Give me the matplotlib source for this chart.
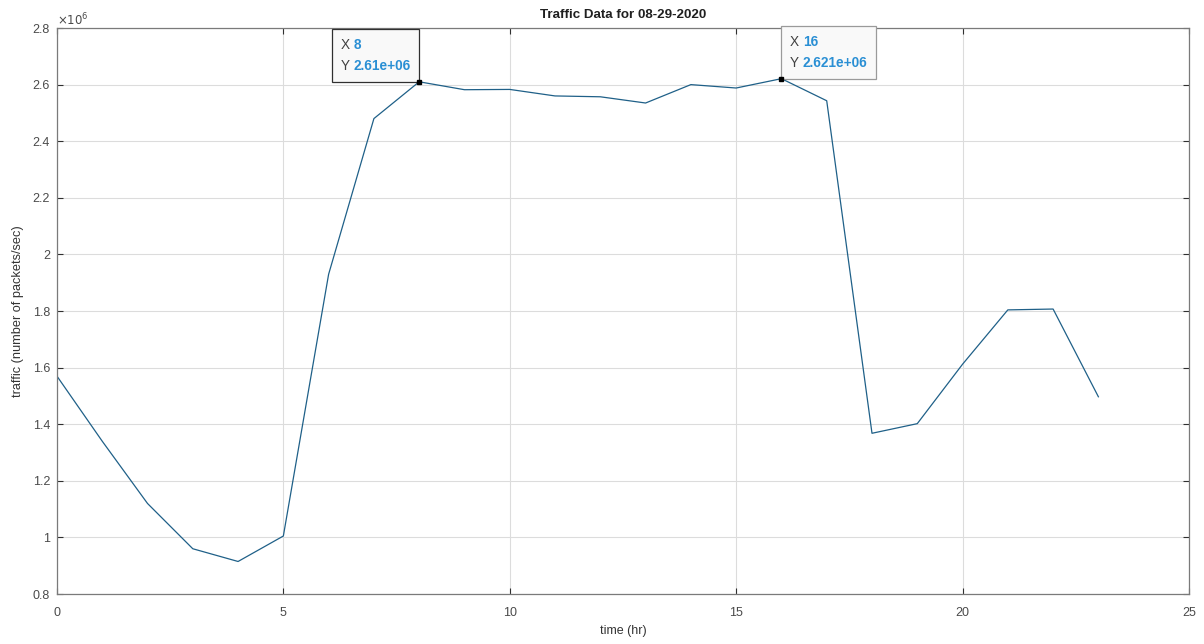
import matplotlib
matplotlib.use('Agg')
import matplotlib.pyplot as plt
from matplotlib.ticker import FuncFormatter, MultipleLocator
from matplotlib.offsetbox import TextArea, HPacker, VPacker, AnnotationBbox

plt.rcParams['font.family'] = ['Liberation Sans', 'DejaVu Sans']

# hourly traffic for one day
hours = list(range(24))
traffic = [1.57e6, 1.34e6, 1.12e6, 0.96e6, 0.915e6, 1.005e6, 1.93e6, 2.48e6,
           2.61e6, 2.582e6, 2.583e6, 2.56e6, 2.557e6, 2.535e6, 2.60e6, 2.588e6,
           2.621e6, 2.543e6, 1.368e6, 1.402e6, 1.612e6, 1.804e6, 1.807e6, 1.497e6]

# hours that get a data tip
tip_hours = [8, 16]

lineColor = '#1f6088'
tickColor = '#4a4a4a'
tipBlue = '#2a8fd4'

fig = plt.figure(figsize=(12.04, 6.44), dpi=100)
ax = fig.add_axes([0.0473, 0.0776, 0.9402, 0.8789])

ax.plot(hours, traffic, color=lineColor, linewidth=0.9)

ax.set_xlim(0, 25)
ax.set_ylim(0.8e6, 2.8e6)
ax.xaxis.set_major_locator(MultipleLocator(5))
ax.yaxis.set_major_locator(MultipleLocator(0.2e6))
ax.yaxis.set_major_formatter(FuncFormatter(lambda v, p: '%g' % round(v / 1e6, 2)))

ax.grid(True, color='#dcdcdc', linewidth=0.8)
ax.set_axisbelow(True)
for s in ax.spines.values():
    s.set_color('#7a7a7a')
    s.set_linewidth(0.9)
ax.tick_params(direction='in', top=True, right=True, length=4, width=0.8,
               color='#303030', labelsize=9, labelcolor=tickColor)
ax.tick_params(axis='x', pad=9)
ax.tick_params(axis='y', pad=5)

ax.text(0.0, 0.999, r'$\times10^{6}$', transform=ax.transAxes, fontsize=8.5,
        color=tickColor, ha='left', va='bottom')

ax.set_title('Traffic Data for 08-29-2020', fontsize=9.6, fontweight='bold',
             color='#202020', pad=7)
ax.set_xlabel('time (hr)', fontsize=9, color='#333333', labelpad=5)
ax.set_ylabel('traffic (number of packets/sec)', fontsize=9.2, color='#333333',
              labelpad=6)

# data tips
boxPad = 6  # points, frame padding around the text
for i, h in enumerate(tip_hours):
    v = traffic[hours.index(h)]
    rows = []
    for name, val in (('X', '%g' % h), ('Y', '%.4g' % v)):
        rows.append(HPacker(children=[
            TextArea(name, textprops=dict(color='#404040', fontsize=9.8)),
            TextArea(val, textprops=dict(color=tipBlue, fontsize=9.8,
                                         fontweight='bold'))],
            align='baseline', pad=0, sep=3))
    box = VPacker(children=rows, align='left', pad=0, sep=5.5)
    if i == 0:
        align, edge, off = (1, 0), '#303030', (-boxPad, boxPad)
    else:
        align, edge, off = (0, 0), '#9a9a9a', (boxPad, boxPad)
    ab = AnnotationBbox(box, (h, v), xybox=off, boxcoords='offset points',
                        box_alignment=align, frameon=True, fontsize=10,
                        bboxprops=dict(boxstyle='square,pad=%g' % (boxPad / 10),
                                       facecolor='#f9f9f9', edgecolor=edge,
                                       linewidth=0.9),
                        annotation_clip=False, zorder=6)
    ax.add_artist(ab)
    ax.plot([h], [v], marker='s', markersize=3.5, color='black', zorder=7)

fig.savefig('out.png', dpi=100)
